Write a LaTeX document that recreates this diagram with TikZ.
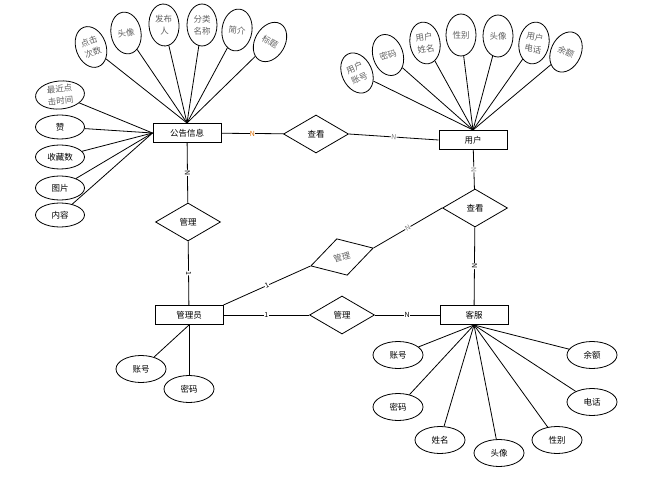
\documentclass[tikz,border=0pt]{standalone}
\usepackage{fontspec}
\setmainfont{Noto Sans CJK SC}
\usetikzlibrary{shapes.geometric}

\tikzset{
  entity/.style={draw,line width=1pt,minimum width=68,minimum height=19,inner sep=0},
  rel/.style={draw,diamond,line width=0.8pt,minimum width=65,minimum height=38,inner sep=0},
  attr/.style={draw,ellipse,line width=0.8pt,minimum width=50,minimum height=27,inner sep=0},
  lattr/.style={draw,ellipse,line width=0.8pt,minimum width=49,minimum height=24,inner sep=0},
  tattr/.style={draw,ellipse,line width=0.8pt,minimum width=30,minimum height=42,inner sep=0,
    text=gray!75!black,align=center},
  card/.style={font=\fontsize{7}{7}\selectfont,inner sep=0.4pt,fill=white},
  conn/.style={line width=0.8pt}
}

\begin{document}
\begin{tikzpicture}[x=1pt,y=-1pt,every node/.style={font=\fontsize{8.5}{12}\selectfont}]
\useasboundingbox (0,0) rectangle (671,478);
% entities
\node[entity] (gg) at (187,133) {公告信息};
\node[entity] (yh) at (473,140) {用户};
\node[entity] (gly) at (189,315) {管理员};
\node[entity] (kf) at (474,315) {客服};
% relations
\node[rel] (ck1) at (316,134) {查看};
\node[rel] (gl1) at (188,222) {管理};
\node[rel] (ck2) at (475,208) {查看};
\node[rel,rotate=16,text=gray!75!black] (gl2) at (342,257) {管理};
\node[rel] (gl3) at (342,315) {管理};
% connectors
\draw[conn] (gg) -- node[card,text=orange!85!black]{N} (ck1);
\draw[conn] (ck1.east) -- node[card,sloped,text=gray]{N} (yh.west);
\draw[conn] (yh) -- node[card,sloped,text=gray]{N} (ck2);
\draw[conn] (ck2) -- node[card,sloped]{N} (kf);
\draw[conn] (gg) -- node[card,sloped]{N} (gl1);
\draw[conn] (gl1) -- node[card,sloped]{1} (gly);
\draw[conn] (gly.north east) -- node[card,sloped]{1} (gl2.west);
\draw[conn] (gl2.east) -- node[card,sloped,text=gray]{N} (ck2.west);
\draw[conn] (gly) -- node[card]{1} (gl3);
\draw[conn] (gl3) -- node[card]{N} (kf);
% attributes of gg
\node[tattr,rotate=20] (djcs) at (91,47) {点击\\次数};
\node[tattr,rotate=10] (tx1) at (126,33) {头像};
\node[tattr,rotate=4] (fbr) at (164,25) {发布\\人};
\node[tattr] (flmc) at (202,25) {分类\\名称};
\node[tattr,rotate=-8] (jj) at (237,30) {简介};
\node[tattr,rotate=-30] (bt) at (270,42) {标题};
\node[lattr,rotate=5,minimum height=28,text=gray!75!black,align=center] (zjdj) at (60,95) {最近点\\击时间};
\node[lattr] (zan) at (60,127) {赞};
\node[lattr] (scs) at (60,157) {收藏数};
\node[lattr] (tp) at (60,188) {图片};
\node[lattr] (nr) at (60,215) {内容};
\foreach \a in {djcs,tx1,fbr,flmc,jj,bt}
    \draw[conn] (\a) -- (gg.north);
\foreach \a in {zjdj,zan,scs,tp,nr}
    \draw[conn] (\a) -- (gg.west);
% attributes of yh
\node[tattr,rotate=25] (yhzh) at (357,73) {用户\\账号};
\node[tattr,rotate=18] (mm1) at (388,55) {密码};
\node[tattr,rotate=10] (yhxm) at (425,43) {用户\\姓名};
\node[tattr] (xb1) at (461,35) {性别};
\node[tattr] (tx2) at (498,36) {头像};
\node[tattr,rotate=-10] (yhdh) at (534,43) {用户\\电话};
\node[tattr,rotate=-25] (ye1) at (566,52) {余额};
\foreach \a in {yhzh,mm1,yhxm,xb1,tx2,yhdh,ye1}
    \draw[conn] (\a) -- (yh.north);
% attributes of gly
\node[attr] (zh1) at (141,369) {账号};
\node[attr] (mm2) at (189,389) {密码};
\draw[conn] (zh1) -- (gly.south);
\draw[conn] (mm2) -- (gly.south);
% attributes of kf
\foreach \n/\x/\y/\t in {zh2/398/355/账号,mm3/398/407/密码,xm/440/440/姓名,tx3/499/453/头像,
    xb2/557/440/性别,dh/592/402/电话,ye2/592/355/余额}{
    \node[attr] (\n) at (\x,\y) {\t};
    \draw[conn] (\n) -- (kf.south);
}
\end{tikzpicture}
\end{document}
